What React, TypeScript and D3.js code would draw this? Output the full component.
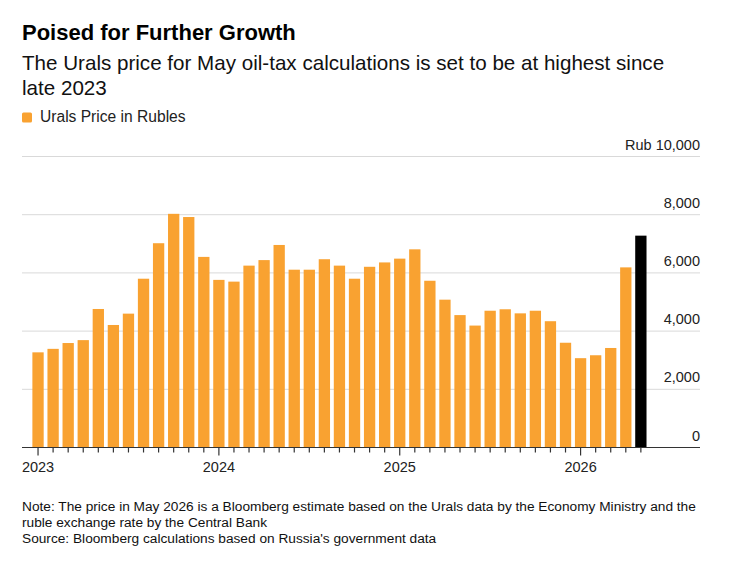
import React from "react";
import * as d3 from "d3";

// Monthly Urals price in rubles per barrel (Jan 2023 – May 2026)
const months: string[] = [
  "2023-01", "2023-02", "2023-03", "2023-04", "2023-05", "2023-06",
  "2023-07", "2023-08", "2023-09", "2023-10", "2023-11", "2023-12",
  "2024-01", "2024-02", "2024-03", "2024-04", "2024-05", "2024-06",
  "2024-07", "2024-08", "2024-09", "2024-10", "2024-11", "2024-12",
  "2025-01", "2025-02", "2025-03", "2025-04", "2025-05", "2025-06",
  "2025-07", "2025-08", "2025-09", "2025-10", "2025-11", "2025-12",
  "2026-01", "2026-02", "2026-03", "2026-04", "2026-05",
];

const uralsPrice: number[] = [
  3270, 3390, 3590, 3690, 4760, 4210, 4600, 5800, 7020, 8030, 7920, 6550,
  5760, 5700, 6250, 6440, 6960, 6110, 6110, 6470, 6250, 5800, 6210, 6360,
  6490, 6810, 5730, 5080, 4550, 4190, 4700, 4750, 4610, 4700, 4340, 3600,
  3070, 3170, 3420, 6190, 7280,
];

// The final month is an estimate and is drawn in black
const estimateMonths: string[] = ["2026-05"];

const yTicks: number[] = [0, 2000, 4000, 6000, 8000, 10000];
const yearLabels: string[] = ["2023", "2024", "2025", "2026"];

const title = "Poised for Further Growth";
const subtitleLines: string[] = [
  "The Urals price for May oil-tax calculations is set to be at highest since",
  "late 2023",
];
const legendLabel = "Urals Price in Rubles";
const noteLines: string[] = [
  "Note: The price in May 2026 is a Bloomberg estimate based on the Urals data by the Economy Ministry and the",
  "ruble exchange rate by the Central Bank",
  "Source: Bloomberg calculations based on Russia's government data",
];

const W = 734;
const H = 567;
const FONT = "'Liberation Sans', Arial, Helvetica, sans-serif";
const ORANGE = "#f9a231";

export default function App() {
  const left = 22;
  const right = 700;
  const top = 156.5;
  const bottom = 447.5;

  const x = d3
    .scaleBand<string>()
    .domain(months)
    .range([30.5, 648.4])
    .paddingInner(0.25)
    .paddingOuter(0.125);

  const y = d3.scaleLinear().domain([0, 10000]).range([bottom, top]);

  const fmt = d3.format(",");

  return (
    <svg
      width={W}
      height={H}
      style={{ position: "absolute", left: 0, top: 0, display: "block", background: "#fff" }}
      fontFamily={FONT}
    >
      <text x={22} y={39.5} fontSize={22} fontWeight={700} fill="#000">
        {title}
      </text>
      {subtitleLines.map((s, i) => (
        <text key={i} x={22} y={70 + i * 24.5} fontSize={20.6} fill="#111">
          {s}
        </text>
      ))}
      <rect x={22} y={112.5} width={10} height={10} rx={1.5} fill={ORANGE} />
      <text x={40} y={121.5} fontSize={15.6} fill="#222">
        {legendLabel}
      </text>

      {/* gridlines and value labels */}
      {yTicks.map((t) => (
        <g key={t}>
          {t > 0 && (
            <line x1={left} x2={right} y1={y(t)} y2={y(t)} stroke="#d9d9d9" strokeWidth={1} />
          )}
          <text
            x={right}
            y={y(t) - 7}
            textAnchor="end"
            fontSize={14.5}
            fill="#222"
          >
            {t === 10000 ? `Rub ${fmt(t)}` : fmt(t)}
          </text>
        </g>
      ))}

      {/* bars */}
      {months.map((m, i) => (
        <rect
          key={m}
          x={x(m)}
          y={y(uralsPrice[i])}
          width={x.bandwidth()}
          height={y(0) - y(uralsPrice[i])}
          fill={estimateMonths.includes(m) ? "#000" : ORANGE}
        />
      ))}

      {/* baseline and month ticks */}
      <line x1={left} x2={right} y1={bottom} y2={bottom} stroke="#333" strokeWidth={1.2} />
      {months.map((m) => {
        const cx = (x(m) as number) + x.bandwidth() / 2;
        const isYear = m.endsWith("-01");
        return (
          <line
            key={m}
            x1={cx}
            x2={cx}
            y1={bottom}
            y2={bottom + (isYear ? 8 : 5)}
            stroke="#333"
            strokeWidth={1.2}
          />
        );
      })}
      {yearLabels.map((yr) => {
        const m = `${yr}-01`;
        const cx = (x(m) as number) + x.bandwidth() / 2;
        return (
          <text key={yr} x={cx} y={472} textAnchor="middle" fontSize={14.5} fill="#222">
            {yr}
          </text>
        );
      })}

      {noteLines.map((s, i) => (
        <text key={i} x={22} y={511 + i * 16} fontSize={13.7} fill="#111">
          {s}
        </text>
      ))}
    </svg>
  );
}
